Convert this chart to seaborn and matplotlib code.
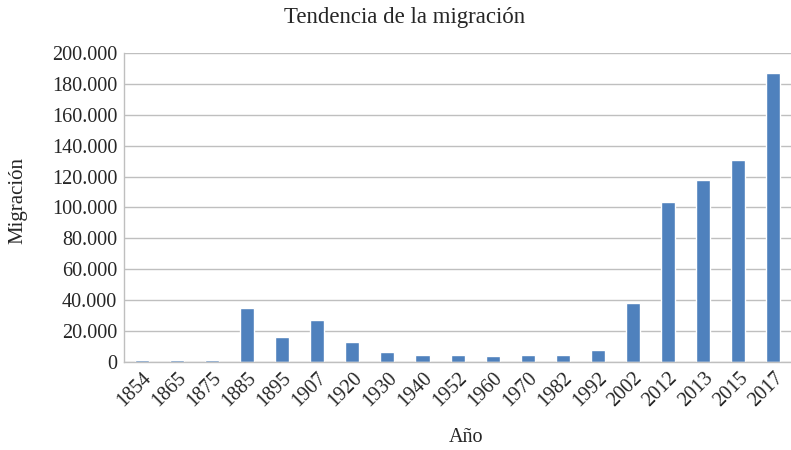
import matplotlib
matplotlib.use("Agg")
import matplotlib.pyplot as plt
import seaborn as sns
import pandas as pd
from matplotlib.ticker import FuncFormatter

# data
years = ["1854", "1865", "1875", "1885", "1895", "1907", "1920", "1930", "1940", "1952",
         "1960", "1970", "1982", "1992", "2002", "2012", "2013", "2015", "2017"]
migration = [1000, 1000, 1000, 35000, 16000, 27300, 12900, 6200, 4100, 4500,
             3700, 4100, 4500, 7700, 38000, 103700, 118000, 130500, 187400]

df = pd.DataFrame({"Año": years, "Migración": migration})

sns.set_theme(style="white")
plt.rcParams["font.family"] = ["Liberation Serif", "DejaVu Serif"]

fig = plt.figure(figsize=(7.91, 4.5), dpi=100)
ax = fig.add_axes([0.157, 0.196, 0.843, 0.686])

sns.barplot(data=df, x="Año", y="Migración", color="#4f81bd", width=0.4,
            saturation=1, ax=ax)

ax.set_ylim(0, 200000)
ax.set_xlim(-0.5, len(years) - 0.5)
ax.set_yticks(range(0, 200001, 20000))
ax.yaxis.set_major_formatter(FuncFormatter(lambda v, p: f"{int(v):,}".replace(",", ".")))
ax.grid(axis="y", color="#bfbfbf", linewidth=1)
ax.set_axisbelow(True)

for s in ["top", "right"]:
    ax.spines[s].set_visible(False)
for s in ["left", "bottom"]:
    ax.spines[s].set_color("#bfbfbf")
    ax.spines[s].set_linewidth(1)

ax.tick_params(axis="both", length=0, labelsize=14.5, colors="#262626", pad=5)
plt.setp(ax.get_xticklabels(), rotation=45, ha="right", rotation_mode="anchor")

# axis labels and title placed like the reference
ax.set_xlabel("")
ax.set_ylabel("")
fig.text(466 / 791, 1 - 438 / 450, "Año", fontsize=14.5, color="#262626",
         ha="center", va="center")
fig.text(18 / 791, 1 - 201 / 450, "Migración", fontsize=15, color="#262626",
         ha="center", va="center", rotation=90)
fig.text(405 / 791, 1 - 17 / 450, "Tendencia de la migración", fontsize=16.5,
         color="#262626", ha="center", va="center")

fig.savefig("out.png", dpi=100)
